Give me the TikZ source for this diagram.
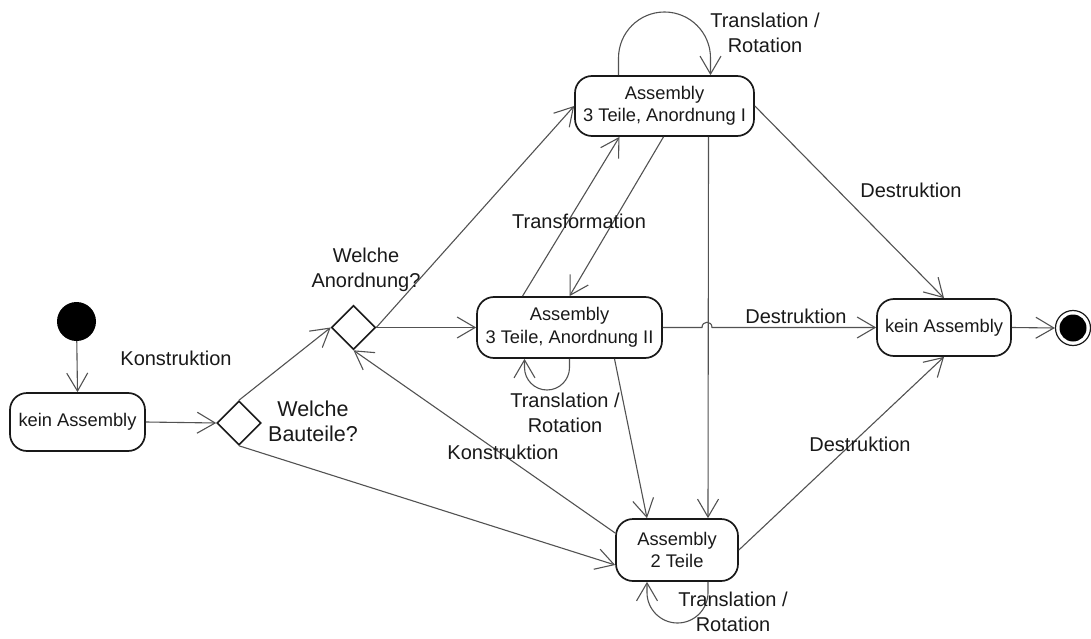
\documentclass[tikz,border=0pt]{standalone}
\usepackage{fontspec}
\setmainfont{Liberation Sans}
\usetikzlibrary{shapes.geometric,arrows.meta}

\begin{document}
\begin{tikzpicture}[x=1pt,y=-1pt,
  state/.style={draw=black!90, line width=1.7pt, rounded corners=17pt, align=center,
    inner sep=0pt, text=black!90, font=\fontsize{18.3}{22.5}\selectfont},
  choice/.style={diamond, draw=black!90, line width=1.6pt, minimum width=44pt,
    minimum height=44pt, inner sep=0pt},
  flow/.style={draw=black!68, line width=1.1pt,
    -{Straight Barb[length=18pt,width=21pt,line width=1.1pt]}},
  lbl/.style={text=black!90, font=\fontsize{20}{24.5}\selectfont, align=center, inner sep=0pt},
]
\useasboundingbox (0,0) rectangle (1091,639);

% start / end pseudo states
\node[circle, fill=black, minimum size=39pt, inner sep=0pt] (start) at (76.5,321.5) {};
\node[circle, draw=black!90, line width=1.2pt, minimum size=35pt, inner sep=0pt,
  path picture={\fill[black] (path picture bounding box.center) circle (13.5pt);}]
  (fin) at (1073,328) {};

% states
\node[state, minimum width=135pt, minimum height=58pt] (k1) at (77.5,422) {kein Assembly};
\node[state, minimum width=134pt, minimum height=57pt] (k2) at (944,327.5) {kein Assembly};
\node[state, minimum width=179pt, minimum height=60pt] (a1) at (664.5,106)
  {Assembly\\3 Teile, Anordnung I};
\node[state, minimum width=185pt, minimum height=61pt] (a2) at (569.5,327.5)
  {Assembly\\3 Teile, Anordnung II};
\node[state, minimum width=122pt, minimum height=62pt] (a3) at (677,550)
  {Assembly\\2 Teile};

% decisions
\node[choice] (d1) at (239,423) {};
\node[choice] (d2) at (353.5,327.5) {};

% hop where the Destruktion line crosses the vertical line
\coordinate (hopL) at (702,327.5);
\coordinate (hopR) at (712,327.5);

% transitions
\draw[flow] (start) -- (k1.north);
\draw[flow] (k1.east) -- (d1.west);
\draw[flow] (d1.north) -- (d2.west);
\draw[flow] (d1.south) -- ([yshift=-15pt]a3.west);
\draw[flow] (d2.east) -- (a1.west);
\draw[flow] (d2.east) -- (a2.west);
\draw[flow] ([yshift=17pt]a3.west) -- (d2.south);
\draw[flow] ([xshift=-47pt]a2.north) -- ([xshift=-45pt]a1.south);
\draw[flow] ([xshift=-1pt]a1.south) -- (a2.north);
\draw[flow] ([xshift=44pt]a1.south) -- ([xshift=31pt]a3.north);
\draw[flow] ([xshift=45pt]a2.south) -- ([xshift=-30pt]a3.north);
\draw[flow] (a2.east) -- (hopL) .. controls +(0,-7) and +(0,-7) .. (hopR) -- (k2.west);
\draw[flow] (a1.east) -- (k2.north);
\draw[flow] (a3.east) -- (k2.south);
\draw[flow] (k2.east) -- (fin.west);

% self transitions
\draw[flow] ([xshift=-46pt]a1.north) -- (618.5,58)
  .. controls (618.5,32.6) and (639.1,12) .. (664.5,12)
  .. controls (689.9,12) and (710.5,32.6) .. (710.5,58) -- ([xshift=46pt]a1.north);
\draw[flow] (a2.south) -- (569.5,367.5)
  .. controls (569.5,379.9) and (559.4,390) .. (547,390)
  .. controls (534.6,390) and (524.5,379.9) .. (524.5,367.5) -- ([xshift=-45pt]a2.south);
\draw[flow] ([xshift=31pt]a3.south) -- (708,592.5)
  .. controls (708,609.3) and (694.3,623) .. (677.5,623)
  .. controls (660.7,623) and (647,609.3) .. (647,592.5) -- ([xshift=-30pt]a3.south);

% labels
\node[lbl] (lk1) at (176,358) {Konstruktion};
\node[lbl] (lk2) at (503,452) {Konstruktion};
\node[lbl, font=\fontsize{21.5}{25}\selectfont] (lbt) at (313,421) {Welche\\Bauteile?};
\node[lbl] (lan) at (366,270) {Welche\\Anordnung?};
\node[lbl] (ltf) at (579,221) {Transformation};
\node[lbl] (ld1) at (911,190) {Destruktion};
\node[lbl] (ld2) at (796,316) {Destruktion};
\node[lbl] (ld3) at (860,444) {Destruktion};
\node[lbl] (lt1) at (765,33) {Translation /\\Rotation};
\node[lbl] (lt2) at (565,413) {Translation /\\Rotation};
\node[lbl] (lt3) at (733,612) {Translation /\\Rotation};
\end{tikzpicture}
\end{document}
